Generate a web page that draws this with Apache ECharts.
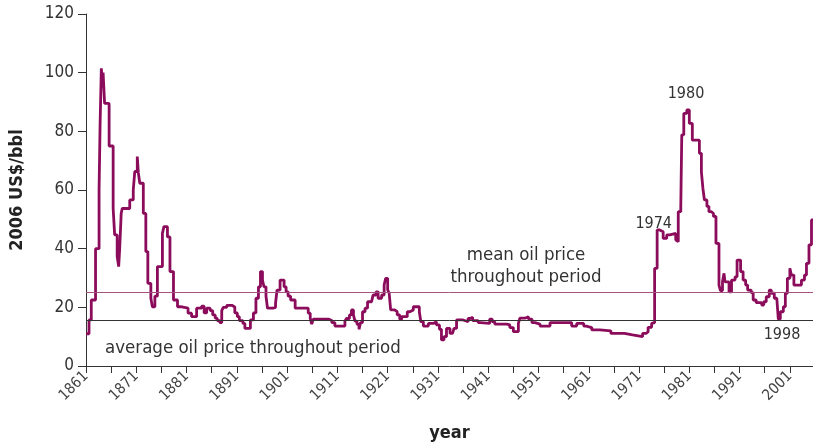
<!DOCTYPE html>
<html>
<head>
<meta charset="utf-8">
<script src="https://cdn.jsdelivr.net/npm/echarts@6/dist/echarts.min.js"></script>
<style>
  html, body { margin: 0; padding: 0; background: #fff; }
  #chart { width: 813px; height: 444px; }
</style>
</head>
<body>
<div id="chart"></div>
<script>
// Real oil price, 2006 US$ per barrel; each value holds until the next change point
const years = [
  1861.0, 1861.6, 1862.05, 1862.9, 1863.6, 1863.8, 1864.05, 1864.3, 1864.4, 1864.7,
  1865.6, 1866.4, 1866.7, 1867.2, 1867.5, 1867.7, 1868.0, 1868.2, 1868.6, 1869.7,
  1870.4, 1870.7, 1871.2, 1871.4, 1871.7, 1872.4, 1872.9, 1873.3, 1873.9, 1874.2,
  1874.7, 1875.2, 1876.2, 1876.5, 1877.2, 1877.7, 1878.4, 1879.2, 1879.8, 1881.3,
  1882.0, 1883.0, 1884.0, 1884.5, 1885.0, 1885.7, 1886.2, 1886.7, 1887.1, 1887.6,
  1888.0, 1888.3, 1889.0, 1890.0, 1890.6, 1891.1, 1891.5, 1892.2, 1892.6, 1893.7,
  1894.3, 1894.8, 1895.3, 1895.7, 1896.1, 1896.4, 1896.8, 1897.1, 1898.2, 1898.7,
  1899.0, 1899.6, 1900.4, 1900.8, 1901.2, 1901.7, 1902.6, 1905.2, 1905.6, 1905.9,
  1906.2, 1909.2, 1909.9, 1910.5, 1912.5, 1912.8, 1913.4, 1913.8, 1914.2, 1914.5,
  1914.9, 1915.3, 1915.6, 1916.0, 1916.5, 1917.0, 1917.8, 1918.1, 1918.7, 1919.1,
  1919.8, 1920.3, 1920.6, 1921.0, 1921.3, 1921.6, 1922.4, 1922.9, 1923.4, 1923.8,
  1924.9, 1925.4, 1926.1, 1927.3, 1927.6, 1928.1, 1929.1, 1930.1, 1930.7, 1931.3,
  1931.7, 1932.2, 1932.7, 1933.4, 1933.9, 1934.2, 1934.7, 1936.0, 1937.0, 1937.4,
  1937.9, 1939.0, 1939.4, 1941.3, 1941.8, 1942.3, 1944.7, 1945.3, 1946.0, 1947.0,
  1947.3, 1948.3, 1949.0, 1949.7, 1950.3, 1951.3, 1953.3, 1957.6, 1958.6, 1960.0,
  1960.5, 1961.6, 1963.2, 1965.4, 1968.1, 1969.7, 1971.7, 1972.4, 1972.8, 1973.5,
  1973.7, 1974.1, 1974.6, 1975.1, 1975.8, 1976.5, 1977.1, 1978.3, 1978.5, 1978.8,
  1979.3, 1979.5, 1979.9, 1980.5, 1981.0, 1981.6, 1983.0, 1983.4, 1983.7, 1984.0,
  1984.5, 1984.9, 1985.4, 1985.8, 1986.3, 1986.9, 1987.2, 1987.6, 1987.9, 1988.1,
  1988.9, 1989.4, 1990.1, 1990.5, 1991.2, 1991.7, 1992.2, 1992.6, 1993.3, 1993.7,
  1994.3, 1995.4, 1995.8, 1996.3, 1996.9, 1997.3, 1997.9, 1998.4, 1998.7, 1999.1,
  1999.7, 2000.1, 2000.5, 2001.0, 2001.3, 2001.8, 2003.3, 2003.9, 2004.3, 2004.8,
  2005.3, 2005.6
];
const prices = [
  11.0, 15.7, 22.5, 40.0, 60.0, 82.0, 101.5, 95.0, 100.0, 89.5,
  75.0, 53.7, 44.7, 37.3, 33.9, 40.0, 52.0, 53.7, 53.7, 56.6,
  60.0, 66.3, 71.4, 66.0, 62.3, 52.0, 39.0, 28.2, 23.1, 20.2,
  23.8, 33.9, 45.2, 47.5, 44.0, 32.2, 22.5, 20.2, 19.7, 18.0,
  16.8, 19.7, 20.4, 18.1, 19.7, 18.9, 17.4, 16.3, 15.5, 14.8,
  18.9, 20.0, 20.7, 20.1, 18.1, 16.8, 15.5, 14.5, 12.8, 15.7,
  18.1, 23.1, 27.0, 32.2, 29.3, 27.0, 23.8, 19.7, 20.0, 21.4,
  25.9, 29.3, 27.0, 25.3, 23.8, 22.5, 19.7, 18.0, 16.3, 14.3,
  16.0, 15.5, 14.8, 13.6, 15.3, 16.2, 17.4, 19.1, 17.4, 15.3,
  14.2, 12.5, 14.8, 18.5, 19.7, 21.9, 22.5, 24.2, 25.3, 23.1,
  24.2, 27.6, 29.9, 26.0, 24.8, 19.1, 18.5, 17.4, 15.9, 16.8,
  18.5, 19.1, 20.2, 18.5, 15.1, 13.6, 14.5, 15.1, 14.0, 12.5,
  8.9, 10.0, 12.8, 11.1, 10.6, 12.8, 15.7, 15.1, 16.2, 16.6,
  15.5, 14.8, 14.5, 16.0, 15.1, 14.3, 14.0, 13.1, 11.7, 14.5,
  16.3, 16.8, 16.0, 14.8, 14.3, 13.6, 14.8, 13.6, 14.5, 13.6,
  13.1, 12.3, 12.0, 11.1, 10.6, 10.0, 11.1, 11.7, 13.2, 14.5,
  14.8, 33.3, 46.4, 45.8, 43.5, 44.7, 45.2, 43.0, 42.4, 52.6,
  54.0, 78.8, 86.1, 87.3, 82.7, 77.0, 72.5, 66.2, 60.6, 56.6,
  54.4, 52.6, 52.0, 51.0, 41.8, 27.6, 25.7, 28.7, 31.6, 28.7,
  25.3, 29.3, 30.4, 36.1, 32.2, 29.3, 27.6, 25.9, 25.0, 22.5,
  21.6, 20.8, 21.9, 23.6, 25.9, 24.8, 23.1, 22.5, 16.0, 18.5,
  20.2, 24.8, 29.9, 33.3, 31.0, 27.6, 29.3, 31.0, 35.0, 41.3,
  49.8, 49.8
];

const firstYear = 1861;
const lastYear = 2005.6;
const meanPrice = 25.0;      // mean oil price throughout period
const averagePrice = 15.5;   // average oil price throughout period
const yTicks = [0, 20, 40, 60, 80, 100, 120];

const narrow = "'Liberation Sans Narrow', 'Arial Narrow', 'DejaVu Sans Condensed', sans-serif";
const lineColor = '#8c0c5c';
const textColor = '#333';

const seriesData = years.map((y, i) => [y - firstYear, prices[i]]);

const chart = echarts.init(document.getElementById('chart'), null, { renderer: 'canvas' });

chart.setOption({
  animation: false,
  backgroundColor: '#fff',
  grid: { left: 86, right: 0, top: 14, bottom: 78, containLabel: false, outerBoundsMode: 'none' },
  xAxis: {
    type: 'value',
    min: 0,
    max: lastYear - firstYear,
    interval: 5,
    name: 'year',
    nameLocation: 'middle',
    nameGap: 58,
    nameTextStyle: { fontFamily: narrow, fontWeight: 'bold', fontSize: 18, color: '#222' },
    axisLine: { show: true, lineStyle: { color: '#333', width: 1 } },
    axisTick: { show: true, length: 7, lineStyle: { color: '#333' } },
    splitLine: { show: false },
    axisLabel: {
      rotate: 45,
      margin: 8,
      fontFamily: narrow,
      fontSize: 15,
      color: '#444',
      showMaxLabel: false,
      formatter: v => (Math.round(v) % 10 === 0 ? String(firstYear + Math.round(v)) : '')
    }
  },
  yAxis: {
    type: 'value',
    min: yTicks[0],
    max: yTicks[yTicks.length - 1],
    interval: 20,
    name: '2006 US$/bbl',
    nameLocation: 'middle',
    nameGap: 60,
    nameRotate: 90,
    nameTextStyle: { fontFamily: narrow, fontWeight: 'bold', fontSize: 18, color: '#222' },
    axisLine: { show: true, lineStyle: { color: '#333', width: 1 } },
    axisTick: { show: true, length: 8, lineStyle: { color: '#333' } },
    splitLine: { show: false },
    axisLabel: { fontFamily: narrow, fontSize: 17, color: textColor, margin: 12 }
  },
  series: [
    {
      type: 'line',
      step: 'end',
      data: seriesData,
      showSymbol: false,
      lineStyle: { color: lineColor, width: 2.8 },
      z: 3,
      markLine: {
        silent: true,
        symbol: 'none',
        label: { show: false },
        data: [
          { yAxis: meanPrice, lineStyle: { color: '#a4527f', width: 1, type: 'solid' } },
          { yAxis: averagePrice, lineStyle: { color: '#333', width: 1, type: 'solid' } }
        ]
      }
    }
  ],
  graphic: [
    { type: 'text', x: 526, y: 255, style: { text: 'mean oil price', font: '18.5px ' + narrow, fill: textColor, align: 'center', verticalAlign: 'middle' } },
    { type: 'text', x: 526, y: 277, style: { text: 'throughout period', font: '18.5px ' + narrow, fill: textColor, align: 'center', verticalAlign: 'middle' } },
    { type: 'text', x: 105, y: 348, style: { text: 'average oil price throughout period', font: '18.5px ' + narrow, fill: textColor, align: 'left', verticalAlign: 'middle' } },
    { type: 'text', x: 672, y: 224, style: { text: '1974', font: '16px ' + narrow, fill: textColor, align: 'right', verticalAlign: 'middle' } },
    { type: 'text', x: 686, y: 94, style: { text: '1980', font: '16px ' + narrow, fill: textColor, align: 'center', verticalAlign: 'middle' } },
    { type: 'text', x: 782, y: 335, style: { text: '1998', font: '16px ' + narrow, fill: textColor, align: 'center', verticalAlign: 'middle' } }
  ]
});
</script>
</body>
</html>
